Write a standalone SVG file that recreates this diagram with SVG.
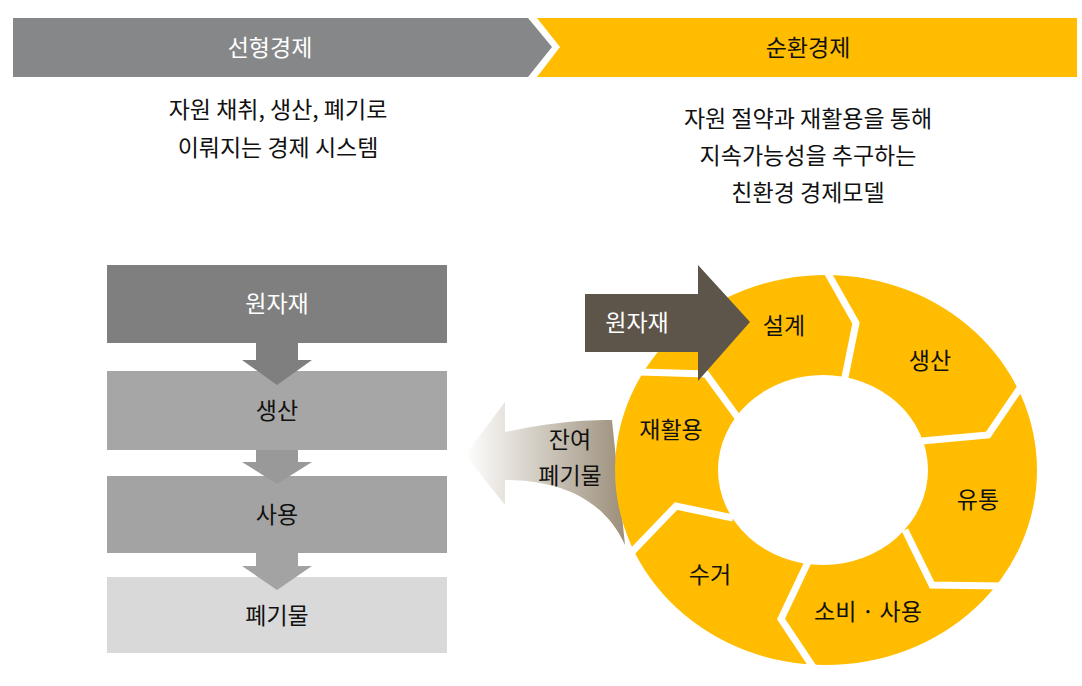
<svg xmlns="http://www.w3.org/2000/svg" width="1082" height="686" viewBox="0 0 1082 686">
<style>
text{font-family:"Noto Sans CJK KR","Noto Sans",sans-serif;text-anchor:middle;font-size:23px;fill:#111}
.w{fill:#fff}
.gap{fill:none;stroke:#fff;stroke-width:7;stroke-linejoin:miter}
</style>
<defs>
<linearGradient id="g" x1="0" x2="1" y1="0" y2="0"><stop offset="0" stop-color="#fff"/><stop offset="1" stop-color="#9c8f7a"/></linearGradient>
</defs>
<rect width="1082" height="686" fill="#fff"/>
<g id="header">
<polygon points="13,18 528,18 552,47 528,77 13,77" fill="#858789"/>
<polygon points="537,18 1077,18 1077,77 537,77 560,47" fill="#ffbc00"/>
<text x="270" y="56" class="w">선형경제</text>
<text x="808" y="56">순환경제</text>
</g>
<g id="desc">
<text x="278" y="118">자원 채취, 생산, 폐기로</text>
<text x="278" y="156">이뤄지는 경제 시스템</text>
<text x="808" y="127">자원 절약과 재활용을 통해</text>
<text x="808" y="164">지속가능성을 추구하는</text>
<text x="808" y="201">친환경 경제모델</text>
</g>
<g id="linear">
<rect x="107" y="265" width="340" height="78" fill="#7f7f7f"/>
<rect x="107" y="371" width="340" height="79" fill="#a6a6a6"/>
<rect x="107" y="476" width="340" height="77" fill="#a3a3a3"/>
<rect x="107" y="577" width="340" height="76" fill="#d9d9d9"/>
<polygon points="256,343 298,343 298,360 312,360 277,385 242,360 256,360" fill="#7f7f7f"/>
<polygon points="256,450 298,450 298,462 312,462 277,484 242,462 256,462" fill="#999"/>
<polygon points="256,553 298,553 298,566 312,566 277,590 242,566 256,566" fill="#a3a3a3"/>
<text x="277" y="312" class="w">원자재</text>
<text x="277" y="419">생산</text>
<text x="277" y="523">사용</text>
<text x="277" y="624">폐기물</text>
</g>
<g id="residual">
<path d="M612,420 C570,420 540,425 505,432 L505,402 L465,455 L505,505 L505,480 C545,480 600,490 625,545 Z" fill="url(#g)"/>
<text x="570" y="448">잔여</text>
<text x="570" y="484">폐기물</text>
</g>
<g id="ring">
<path fill-rule="evenodd" fill="#ffbc00" d="M615,470 a211,195 0 1,0 422,0 a211,195 0 1,0 -422,0 Z M718,470 a105,95 0 1,0 210,0 a105,95 0 1,0 -210,0 Z"/>
</g>
<g id="connectors">
<polyline class="gap" points="826,270 856,323 842,392"/>
<polyline class="gap" points="1022,385 988,435 922,441"/>
<polyline class="gap" points="905,530 932,585 1002,586"/>
<polyline class="gap" points="808,562 781,619 815,670"/>
<polyline class="gap" points="733,518 676,506 628,556"/>
<polyline class="gap" points="741,422 706,374 640,372"/>
</g>
<g id="rawin">
<polygon points="585,294 698,294 698,265 750,322 698,381 698,352 585,352" fill="#5e554a"/>
<text x="637" y="331" class="w">원자재</text>
</g>
<g id="labels">
<text x="784" y="334">설계</text>
<text x="930" y="369">생산</text>
<text x="978" y="508">유통</text>
<text x="868" y="620">소비 · 사용</text>
<text x="710" y="583">수거</text>
<text x="671" y="438">재활용</text>
</g>
</svg>
